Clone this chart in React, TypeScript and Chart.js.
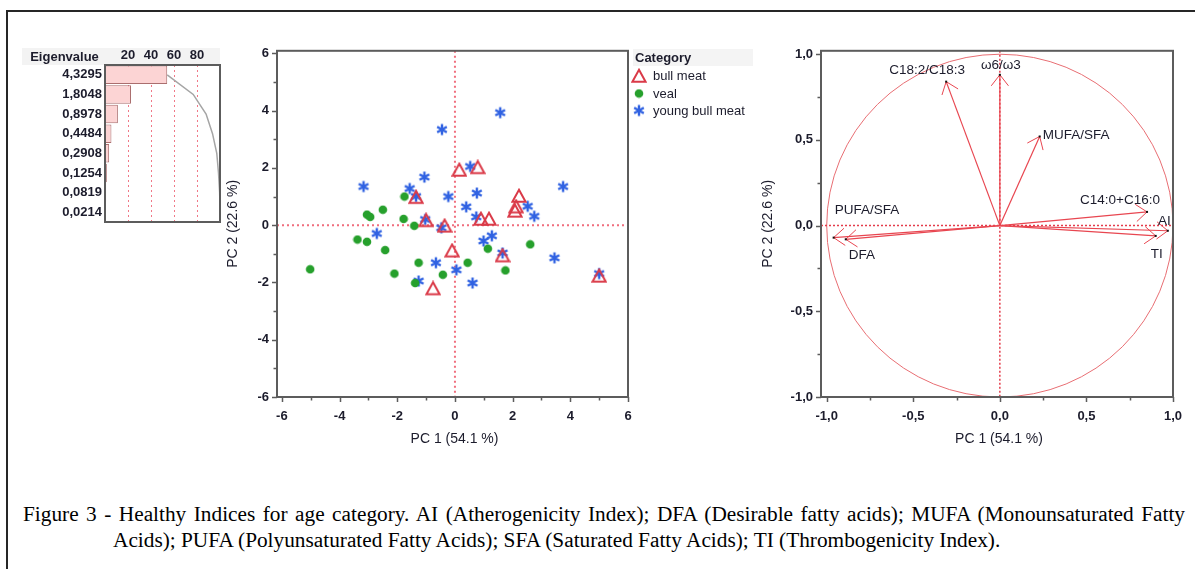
import React, { useEffect, useRef } from "react";
import { Chart, registerables } from "chart.js";

Chart.register(...registerables);

const SANS = "'Liberation Sans', Arial, Helvetica, sans-serif";
const SERIF = "'Liberation Serif', 'Times New Roman', serif";
const INK = "#1c1c2c";
const FRAME = "#5c5c5c";

// ---------- Eigenvalue panel ----------
const eigenvalueLabels = ["4,3295", "1,8048", "0,8978", "0,4484", "0,2908", "0,1254", "0,0819", "0,0214"];
const variancePercent = [54.1, 22.6, 11.2, 5.6, 3.6, 1.6, 1.0, 0.3];
const cumulativePercent = [54.1, 76.7, 87.9, 93.5, 97.2, 98.7, 99.7, 100];
const percentTicks = [20, 40, 60, 80];

// ---------- Score plot ----------
const bullMeatPC1 = [0.15, 0.79, -1.35, -1.0, -0.36, 0.9, 1.18, 2.22, 2.12, 2.08, -0.1, 1.65, -0.76, 5.0];
const bullMeatPC2 = [1.93, 2.02, 0.98, 0.17, -0.02, 0.22, 0.22, 1.02, 0.65, 0.5, -0.89, -1.06, -2.21, -1.77];
const vealPC1 = [-1.75, -2.5, -3.05, -2.94, -1.78, -1.41, -3.38, -3.05, -2.42, 2.61, 1.14, -5.02, -2.1, -1.26, -0.42, 0.44, 1.75, -1.38];
const vealPC2 = [1.0, 0.54, 0.37, 0.29, 0.22, -0.02, -0.5, -0.58, -0.87, -0.67, -0.82, -1.54, -1.69, -1.31, -1.73, -1.31, -1.58, -2.02];
const youngBullPC1 = [-3.17, -0.45, 1.57, -1.06, -1.57, -1.35, -0.23, 0.53, 0.76, 0.39, 0.74, 3.75, 2.52, 2.75, -2.71, -1.03, -0.47, 0.99, 1.28, 1.65, 3.45, -0.66, 0.05, -1.26, 0.61, 5.0];
const youngBullPC2 = [1.35, 3.34, 3.93, 1.68, 1.28, 1.0, 1.0, 2.05, 1.12, 0.64, 0.29, 1.35, 0.66, 0.31, -0.29, 0.2, -0.09, -0.55, -0.37, -0.97, -1.14, -1.31, -1.56, -1.95, -2.02, -1.69];
const categoryNames = ["bull meat", "veal", "young bull meat"];
const scoreMajorTicks = [-6, -4, -2, 0, 2, 4, 6];
const scoreMinorTicks = [-5, -3, -1, 1, 3, 5];

// ---------- Loading plot ----------
const loadingNames = ["C18:2/C18:3", "ω6/ω3", "MUFA/SFA", "C14:0+C16:0", "AI", "TI", "PUFA/SFA", "DFA"];
const loadingPC1 = [-0.31, 0.0, 0.23, 0.85, 0.97, 0.9, -0.96, -0.89];
const loadingPC2 = [0.84, 0.88, 0.52, 0.08, -0.03, -0.06, -0.07, -0.08];
const loadingMajorTicks = [-1, -0.5, 0, 0.5, 1];
const loadingMinorTicks = [-0.75, -0.25, 0.25, 0.75];

// label placement (style): pixel offset from arrow tip + alignment
const loadingLabelStyle: [number, number, CanvasTextAlign][] = [
  [-19, -11, "center"],
  [1, -10, "center"],
  [3, -1, "left"],
  [-27, -12, "center"],
  [3, -9, "right"],
  [1, 18, "center"],
  [1, -27, "left"],
  [3, 16, "left"],
];

const RED = "rgb(218,58,72)";
const GREEN = "rgb(38,160,44)";
const BLUE = "rgb(48,98,226)";

function makeTriangle(color: string) {
  const c = document.createElement("canvas");
  c.width = 16;
  c.height = 16;
  const g = c.getContext("2d")!;
  g.strokeStyle = color;
  g.lineWidth = 2;
  g.lineJoin = "miter";
  g.beginPath();
  g.moveTo(8, 1.8);
  g.lineTo(14.6, 13.8);
  g.lineTo(1.4, 13.8);
  g.closePath();
  g.stroke();
  return c;
}

function makeStar(color: string) {
  const c = document.createElement("canvas");
  c.width = 14;
  c.height = 14;
  const g = c.getContext("2d")!;
  g.strokeStyle = color;
  g.lineWidth = 2.4;
  g.beginPath();
  for (const deg of [90, 30, -30]) {
    const r = (deg * Math.PI) / 180;
    g.moveTo(7 - 5.6 * Math.cos(r), 7 - 5.6 * Math.sin(r));
    g.lineTo(7 + 5.6 * Math.cos(r), 7 + 5.6 * Math.sin(r));
  }
  g.stroke();
  return c;
}

function makeDot(color: string) {
  const c = document.createElement("canvas");
  c.width = 10;
  c.height = 10;
  const g = c.getContext("2d")!;
  g.fillStyle = color;
  g.beginPath();
  g.arc(5, 5, 4.3, 0, Math.PI * 2);
  g.fill();
  return c;
}

const tickFont = { family: SANS, size: 13, weight: "bold" as const };

function drawTickMarks(chart: any, major: number[], minor: number[], yMajor: number[], yMinor: number[]) {
  const { ctx, chartArea: a, scales } = chart;
  ctx.save();
  ctx.strokeStyle = FRAME;
  ctx.lineWidth = 1.5;
  ctx.beginPath();
  const xs = scales.x;
  const ys = scales.y;
  major.forEach((v) => {
    const p = Math.round(xs.getPixelForValue(v)) + 0.5;
    ctx.moveTo(p, a.bottom);
    ctx.lineTo(p, a.bottom + 5);
  });
  minor.forEach((v) => {
    const p = Math.round(xs.getPixelForValue(v)) + 0.5;
    ctx.moveTo(p, a.bottom);
    ctx.lineTo(p, a.bottom + 3.5);
  });
  yMajor.forEach((v) => {
    const p = Math.round(ys.getPixelForValue(v)) + 0.5;
    ctx.moveTo(a.left, p);
    ctx.lineTo(a.left - 5, p);
  });
  yMinor.forEach((v) => {
    const p = Math.round(ys.getPixelForValue(v)) + 0.5;
    ctx.moveTo(a.left, p);
    ctx.lineTo(a.left - 3.5, p);
  });
  ctx.stroke();
  ctx.restore();
}

function drawFrame(chart: any) {
  const { ctx, chartArea: a } = chart;
  ctx.save();
  ctx.strokeStyle = FRAME;
  ctx.lineWidth = 2;
  ctx.strokeRect(a.left, a.top, a.right - a.left, a.bottom - a.top);
  ctx.restore();
}

function drawTitles(chart: any, xTitle: string, yTitle: string, yTitleX: number) {
  const { ctx, chartArea: a } = chart;
  ctx.save();
  ctx.fillStyle = INK;
  ctx.font = `14px ${SANS}`;
  ctx.textAlign = "center";
  ctx.textBaseline = "middle";
  ctx.fillText(xTitle, (a.left + a.right) / 2 + 2, a.bottom + 42);
  ctx.translate(yTitleX, (a.top + a.bottom) / 2);
  ctx.rotate(-Math.PI / 2);
  ctx.fillText(yTitle, 0, 0);
  ctx.restore();
}

function drawZeroLines(chart: any, color: string, dash: number[], width: number) {
  const { ctx, chartArea: a, scales } = chart;
  const x0 = scales.x.getPixelForValue(0);
  const y0 = scales.y.getPixelForValue(0);
  ctx.save();
  ctx.strokeStyle = color;
  ctx.setLineDash(dash);
  ctx.lineWidth = width;
  ctx.beginPath();
  ctx.moveTo(x0, a.top);
  ctx.lineTo(x0, a.bottom);
  ctx.moveTo(a.left, y0);
  ctx.lineTo(a.right, y0);
  ctx.stroke();
  ctx.restore();
}

function eigenConfig(): any {
  const deco = {
    id: "eigenDeco",
    beforeDraw(chart: any) {
      const { ctx } = chart;
      ctx.save();
      ctx.fillStyle = "#f3f3f3";
      ctx.fillRect(7, 8, 198, 17);
      ctx.fillStyle = INK;
      ctx.font = `bold 13px ${SANS}`;
      ctx.textAlign = "center";
      ctx.textBaseline = "middle";
      ctx.fillText("Eigenvalue", 49.5, 17);
      ctx.restore();
    },
    beforeDatasetsDraw(chart: any) {
      const { ctx, chartArea: a, scales } = chart;
      ctx.save();
      ctx.strokeStyle = "rgb(240,120,135)";
      ctx.lineWidth = 1;
      ctx.setLineDash([2, 3]);
      ctx.beginPath();
      percentTicks.forEach((v) => {
        const p = Math.round(scales.x.getPixelForValue(v)) + 0.5;
        ctx.moveTo(p, a.top);
        ctx.lineTo(p, a.bottom);
      });
      ctx.stroke();
      ctx.restore();
    },
    afterDraw(chart: any) {
      drawFrame(chart);
    },
  };
  return {
    type: "bar",
    data: {
      labels: eigenvalueLabels,
      datasets: [
        {
          type: "line",
          data: cumulativePercent,
          borderColor: "rgb(165,165,165)",
          borderWidth: 1.5,
          pointRadius: 0,
          fill: false,
          order: 0,
        },
        {
          type: "bar",
          data: variancePercent,
          backgroundColor: "rgb(252,212,212)",
          borderColor: "rgb(170,110,110)",
          borderWidth: 1,
          barPercentage: 0.94,
          categoryPercentage: 1,
          order: 1,
        },
      ],
    },
    options: {
      indexAxis: "y",
      animation: false,
      responsive: false,
      events: [],
      layout: { padding: { left: 0, right: 10, top: 0, bottom: 13 } },
      plugins: { legend: { display: false }, tooltip: { enabled: false } },
      scales: {
        x: {
          type: "linear",
          position: "top",
          min: 0,
          max: 100,
          afterBuildTicks: (s: any) => {
            s.ticks = percentTicks.map((v) => ({ value: v }));
          },
          afterFit: (s: any) => {
            s.height = 25;
          },
          grid: { display: false, drawTicks: false },
          border: { display: false },
          ticks: { font: tickFont, color: INK, padding: 2, autoSkip: false, maxRotation: 0 },
        },
        y: {
          afterFit: (s: any) => {
            s.width = 90;
          },
          grid: { display: false, drawTicks: false },
          border: { display: false },
          ticks: { font: tickFont, color: INK, padding: 3, autoSkip: false },
        },
      },
    },
    plugins: [deco],
  };
}

function scoreConfig(): any {
  const tri = makeTriangle(RED);
  const dot = makeDot(GREEN);
  const star = makeStar(BLUE);
  const symbols = [tri, dot, star];
  const deco = {
    id: "scoreDeco",
    beforeDatasetsDraw(chart: any) {
      drawZeroLines(chart, "rgb(240,110,125)", [2, 3], 2);
    },
    afterDraw(chart: any) {
      drawFrame(chart);
      drawTickMarks(chart, scoreMajorTicks, scoreMinorTicks, scoreMajorTicks, scoreMinorTicks);
      drawTitles(chart, "PC 1 (54.1 %)", "PC 2 (22.6 %)", 18);
      const { ctx } = chart;
      ctx.save();
      ctx.fillStyle = "#f4f4f4";
      ctx.fillRect(418, 14, 120, 17);
      ctx.fillStyle = INK;
      ctx.textBaseline = "middle";
      ctx.textAlign = "left";
      ctx.font = `bold 13px ${SANS}`;
      ctx.fillText("Category", 420, 23.5);
      ctx.font = `13px ${SANS}`;
      const ys = [41, 58.5, 75.5];
      categoryNames.forEach((n, i) => {
        const img = symbols[i];
        ctx.drawImage(img, 424 - img.width / 2, ys[i] - img.height / 2);
        ctx.fillText(n, 438, ys[i] + 0.5);
      });
      ctx.restore();
    },
  };
  const pts = (xs: number[], ys: number[]) => xs.map((x, i) => ({ x, y: ys[i] }));
  return {
    type: "scatter",
    data: {
      datasets: [
        { label: categoryNames[0], data: pts(bullMeatPC1, bullMeatPC2), pointStyle: tri, pointRadius: 7 },
        { label: categoryNames[1], data: pts(vealPC1, vealPC2), pointStyle: dot, pointRadius: 5 },
        { label: categoryNames[2], data: pts(youngBullPC1, youngBullPC2), pointStyle: star, pointRadius: 6 },
      ],
    },
    options: {
      animation: false,
      responsive: false,
      events: [],
      layout: { padding: { left: 0, right: 142, top: 11, bottom: 0 } },
      plugins: { legend: { display: false }, tooltip: { enabled: false } },
      scales: {
        x: {
          type: "linear",
          min: -6.17,
          max: 6,
          afterBuildTicks: (s: any) => {
            s.ticks = scoreMajorTicks.map((v) => ({ value: v }));
          },
          afterFit: (s: any) => {
            s.height = 58;
          },
          grid: { display: false, drawTicks: false },
          border: { display: false },
          ticks: { font: tickFont, color: INK, padding: 12, autoSkip: false, maxRotation: 0, callback: (v: any) => String(v) },
        },
        y: {
          type: "linear",
          min: -6,
          max: 6.09,
          afterBuildTicks: (s: any) => {
            s.ticks = scoreMajorTicks.map((v) => ({ value: v }));
          },
          afterFit: (s: any) => {
            s.width = 62;
          },
          grid: { display: false, drawTicks: false },
          border: { display: false },
          ticks: { font: tickFont, color: INK, padding: 8, autoSkip: false, callback: (v: any) => String(v) },
        },
      },
    },
    plugins: [deco],
  };
}

function loadingConfig(): any {
  const fmt = (v: any) => (Number(v).toFixed(1)).replace(".", ",");
  const deco = {
    id: "loadDeco",
    beforeDatasetsDraw(chart: any) {
      const { ctx, scales } = chart;
      const cx = scales.x.getPixelForValue(0);
      const cy = scales.y.getPixelForValue(0);
      const rx = scales.x.getPixelForValue(1) - cx;
      const ry = cy - scales.y.getPixelForValue(1);
      ctx.save();
      ctx.strokeStyle = "rgb(232,110,115)";
      ctx.lineWidth = 1;
      ctx.beginPath();
      ctx.ellipse(cx, cy, rx, ry, 0, 0, Math.PI * 2);
      ctx.stroke();
      ctx.restore();
      drawZeroLines(chart, "rgb(228,60,75)", [2, 2], 1.5);
    },
    afterDatasetsDraw(chart: any) {
      const { ctx } = chart;
      ctx.save();
      chart.data.datasets.forEach((ds: any, i: number) => {
        const meta = chart.getDatasetMeta(i);
        const p0 = meta.data[0];
        const p1 = meta.data[1];
        const ang = Math.atan2(p1.y - p0.y, p1.x - p0.x);
        const L = 14;
        const w = (38 * Math.PI) / 180;
        ctx.strokeStyle = "rgb(232,70,80)";
        ctx.lineWidth = 1;
        ctx.beginPath();
        ctx.moveTo(p1.x - L * Math.cos(ang - w), p1.y - L * Math.sin(ang - w));
        ctx.lineTo(p1.x, p1.y);
        ctx.lineTo(p1.x - L * Math.cos(ang + w), p1.y - L * Math.sin(ang + w));
        ctx.stroke();
        ctx.fillStyle = "#111";
        ctx.fillRect(p1.x - 1, p1.y - 1, 2, 2);
        const [dx, dy, align] = loadingLabelStyle[i];
        ctx.font = `13.5px ${SANS}`;
        ctx.fillStyle = INK;
        ctx.textAlign = align;
        ctx.textBaseline = "middle";
        ctx.fillText(loadingNames[i], p1.x + dx, p1.y + dy);
      });
      ctx.restore();
    },
    afterDraw(chart: any) {
      drawFrame(chart);
      drawTickMarks(chart, loadingMajorTicks, loadingMinorTicks, loadingMajorTicks, loadingMinorTicks);
      drawTitles(chart, "PC 1 (54.1 %)", "PC 2 (22.6 %)", 8);
    },
  };
  return {
    type: "scatter",
    data: {
      datasets: loadingNames.map((n, i) => ({
        label: n,
        data: [
          { x: 0, y: 0 },
          { x: loadingPC1[i], y: loadingPC2[i] },
        ],
        showLine: true,
        borderColor: "rgb(232,70,80)",
        borderWidth: 1.2,
        pointRadius: 0,
      })),
    },
    options: {
      animation: false,
      responsive: false,
      events: [],
      layout: { padding: { left: 0, right: 22, top: 11, bottom: 0 } },
      plugins: { legend: { display: false }, tooltip: { enabled: false } },
      scales: {
        x: {
          type: "linear",
          min: -1.033,
          max: 1.0,
          afterBuildTicks: (s: any) => {
            s.ticks = loadingMajorTicks.map((v) => ({ value: v }));
          },
          afterFit: (s: any) => {
            s.height = 58;
          },
          grid: { display: false, drawTicks: false },
          border: { display: false },
          ticks: { font: tickFont, color: INK, padding: 12, autoSkip: false, maxRotation: 0, callback: fmt },
        },
        y: {
          type: "linear",
          min: -1.0,
          max: 1.02,
          afterBuildTicks: (s: any) => {
            s.ticks = loadingMajorTicks.map((v) => ({ value: v }));
          },
          afterFit: (s: any) => {
            s.width = 61;
          },
          grid: { display: false, drawTicks: false },
          border: { display: false },
          ticks: { font: tickFont, color: INK, padding: 8, autoSkip: false, callback: fmt },
        },
      },
    },
    plugins: [deco],
  };
}

export default function App() {
  const eigenRef = useRef<HTMLCanvasElement>(null);
  const scoreRef = useRef<HTMLCanvasElement>(null);
  const loadRef = useRef<HTMLCanvasElement>(null);

  useEffect(() => {
    const charts = [
      new Chart(eigenRef.current!, eigenConfig()),
      new Chart(scoreRef.current!, scoreConfig()),
      new Chart(loadRef.current!, loadingConfig()),
    ];
    return () => charts.forEach((c) => c.destroy());
  }, []);

  const captionStyle: React.CSSProperties = {
    position: "absolute",
    fontFamily: SERIF,
    fontSize: 21.3,
    lineHeight: "25.5px",
    color: "#000",
    margin: 0,
  };

  return (
    <div style={{ position: "absolute", left: 0, top: 0, width: 1195, height: 569, background: "#fff", overflow: "hidden" }}>
      <div
        style={{
          position: "absolute",
          left: 6,
          top: 10,
          width: 1195,
          height: 600,
          borderLeft: "2px solid #262626",
          borderTop: "2px solid #262626",
        }}
      />
      <canvas ref={eigenRef} width={215} height={195} style={{ position: "absolute", left: 15, top: 40 }} />
      <canvas ref={scoreRef} width={555} height={420} style={{ position: "absolute", left: 215, top: 35 }} />
      <canvas ref={loadRef} width={435} height={420} style={{ position: "absolute", left: 760, top: 35 }} />
      <div style={{ ...captionStyle, left: 23, top: 502, width: 1162, textAlign: "justify", textAlignLast: "justify" }}>
        Figure 3 - Healthy Indices for age category. AI (Atherogenicity Index); DFA (Desirable fatty acids); MUFA (Monounsaturated Fatty
      </div>
      <div style={{ ...captionStyle, left: 113, top: 528, whiteSpace: "nowrap" }}>
        Acids); PUFA (Polyunsaturated Fatty Acids); SFA (Saturated Fatty Acids); TI (Thrombogenicity Index).
      </div>
    </div>
  );
}
